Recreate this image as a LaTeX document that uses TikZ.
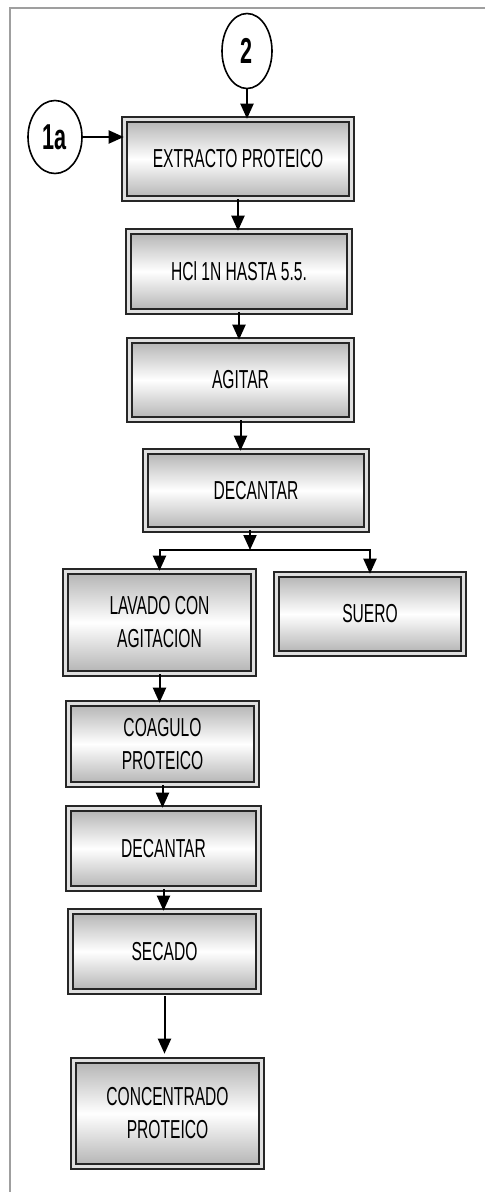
\documentclass[tikz,border=0pt]{standalone}
\usepackage{fontspec}
\newfontfamily\boxfont[FakeStretch=0.6]{Liberation Sans}
\usepackage{tikz}
\usetikzlibrary{positioning,arrows.meta,shapes.geometric}
\tikzset{%
  flecha/.style = {-{Triangle[width=13pt,length=15pt]},line width=2pt},
  caja/.style = {rectangle,draw=black!85,line width=1.6pt,
        double=gray!25,double distance=3.5pt,
        top color=gray!60,bottom color=gray!60,middle color=white,
        align=center,inner sep=2pt,
        font=\boxfont\fontsize{26}{33}\selectfont},
  conector/.style = {ellipse,draw,line width=1.6pt,inner sep=0pt,
        minimum width=50pt,minimum height=75pt,
        font=\boxfont\bfseries\fontsize{36}{36}\selectfont}
}

\begin{document}
\begin{tikzpicture}[x=1pt,y=-1pt]
\useasboundingbox (0,0) rectangle (485,1192);
% marco
\draw[gray!75,line width=2pt] (10,1192) |- (485,8);
% conectores de entrada
\node[conector] (dos) at (247,51) {2};
\node[conector,minimum width=54pt,minimum height=73pt] (unoa) at (55,137) {1a};
% proceso
\node[caja,minimum width=227pt,minimum height=79pt] (extracto) at (238,159) {EXTRACTO PROTEICO};
\node[caja,minimum width=221pt,minimum height=80pt] (hcl) at (239,271.5) {HCl 1N HASTA 5.5.};
\node[caja,minimum width=222pt,minimum height=79pt] (agitar) at (240.5,380) {AGITAR};
\node[caja,minimum width=221pt,minimum height=78pt] (decantar) at (256,490.5) {DECANTAR};
\node[caja,minimum width=188pt,minimum height=102pt] (lavado) at (159.5,622.5) {LAVADO CON\\AGITACION};
\node[caja,minimum width=187pt,minimum height=79pt] (suero) at (370,614) {SUERO};
\node[caja,minimum width=188pt,minimum height=81pt] (coagulo) at (162.5,744) {COAGULO\\PROTEICO};
\node[caja,minimum width=190pt,minimum height=80pt] (decantarb) at (163.5,848.5) {DECANTAR};
\node[caja,minimum width=188pt,minimum height=80pt] (secado) at (164.5,951.5) {SECADO};
\node[caja,minimum width=188pt,minimum height=106pt] (concentrado) at (167.5,1113.5) {CONCENTRADO\\PROTEICO};
\coordinate (split) at (250,550);
% flechas
\draw[flecha] (dos.south) -- (dos.south |- extracto.north);
\draw[flecha] (unoa.east) -- (unoa.east -| extracto.west);
\draw[flecha] (extracto.south) -- (extracto.south |- hcl.north);
\draw[flecha] (hcl.south) -- (hcl.south |- agitar.north);
\draw[flecha] (agitar.south) -- (agitar.south |- decantar.north);
\draw[flecha] (decantar.south -| split) -- (split);
\draw[flecha] (split) -| (lavado.north);
\draw[flecha] (split) -| (suero.north);
\draw[flecha] (lavado.south) -- (lavado.south |- coagulo.north);
\draw[flecha] (coagulo.south) -- (coagulo.south |- decantarb.north);
\draw[flecha] (decantarb.south) -- (decantarb.south |- secado.north);
\draw[flecha,shorten >=6pt,shorten <=4pt] (secado.south) -- (secado.south |- concentrado.north);
\end{tikzpicture}
\end{document}
